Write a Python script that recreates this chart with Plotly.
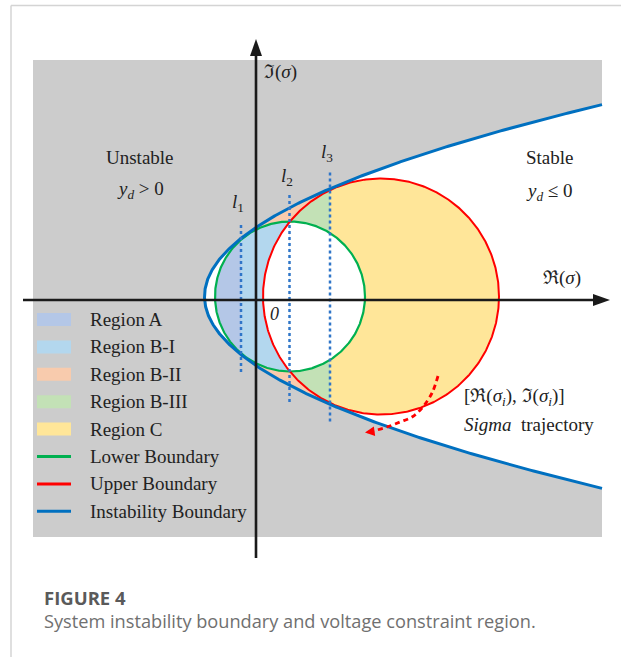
import numpy as np
import plotly.graph_objects as go

# ---- sigma-plane geometry (one unit = 50 px on the page) ----
# circles: [centre Re, centre Im, radius]
lower_circle = [0.68, 0.07, 1.50]      # lower voltage boundary (green)
upper_circle = [2.50, 0.07, 2.36]      # upper voltage boundary (red)
# instability boundary Re = vertex + curvature * (Im - axis)^2
instab_vertex = -1.03
instab_axis = 0.07
instab_curv = 0.54

# vertical guide lines l1, l2, l3
guide_names = ["1", "2", "3"]
guide_re = [-0.30, 0.67, 1.48]
guide_top = [1.54, 2.14, 2.57]
guide_bottom = [-1.44, -2.04, -2.43]
guide_label_re = [-0.36, 0.62, 1.42]
guide_label_im = [1.95, 2.47, 2.94]

# sigma trajectory sample points
traj_re = [3.64, 3.52, 3.32, 3.12, 2.88, 2.62, 2.34, 2.26]
traj_im = [-1.52, -1.86, -2.16, -2.34, -2.44, -2.54, -2.62, -2.635]

# extent of the shaded plane and of the drawn axes
plane_re = [-4.46, 6.92]
plane_im = [-4.74, 4.80]
re_axis = [-4.66, 7.08]
im_axis = [-5.16, 5.22]

# legend entries
legend_labels = ["Region A", "Region B-I", "Region B-II", "Region B-III", "Region C",
                 "Lower Boundary", "Upper Boundary", "Instability Boundary"]
legend_kinds = ["fill", "fill", "fill", "fill", "fill", "line", "line", "line"]

# colours
C_GRAY = "#cccccc"
C_A = "#b4c7e7"
C_BI = "#b3d7ee"
C_BII = "#f8cbad"
C_BIII = "#c3e1b6"
C_C = "#ffe699"
C_LOW = "#00b050"
C_UP = "#ff0000"
C_INST = "#0070c0"
C_GUIDE = "#2f75c8"
C_AXIS = "#1a1a1a"
legend_colors = [C_A, C_BI, C_BII, C_BIII, C_C, C_LOW, C_UP, C_INST]

SERIF = "Liberation Serif, Times New Roman, serif"
W, H = 621, 657


def circle_part(circ, xmin, xmax, n=300):
    """Closed outline of the part of a disc with xmin <= Re <= xmax."""
    cx, cy, r = circ
    a = max(xmin, cx - r)
    b = min(xmax, cx + r)
    ta = np.arccos(np.clip((a - cx) / r, -1, 1))
    tb = np.arccos(np.clip((b - cx) / r, -1, 1))
    t_up = np.linspace(ta, tb, n)
    t_dn = np.linspace(tb, ta, n)
    xs = np.concatenate([cx + r * np.cos(t_up), cx + r * np.cos(t_dn)])
    ys = np.concatenate([cy + r * np.sin(t_up), cy - r * np.sin(t_dn)])
    return np.append(xs, xs[0]), np.append(ys, ys[0])


def circle_outline(circ, n=600):
    cx, cy, r = circ
    t = np.linspace(0, 2 * np.pi, n)
    return cx + r * np.cos(t), cy + r * np.sin(t)


def parabola_part(xmin, xmax, n=400):
    """Closed outline of the stable interior of the instability boundary."""
    sa = np.sqrt(max(xmin - instab_vertex, 0) / instab_curv)
    sb = np.sqrt((xmax - instab_vertex) / instab_curv)
    s_up = np.linspace(sa, sb, n)
    s_dn = np.linspace(sb, sa, n)
    xs = np.concatenate([instab_vertex + instab_curv * s_up ** 2,
                         instab_vertex + instab_curv * s_dn ** 2])
    ys = np.concatenate([instab_axis + s_up, instab_axis - s_dn])
    return np.append(xs, xs[0]), np.append(ys, ys[0])


fig = go.Figure()


def add_fill(xs, ys, color):
    fig.add_trace(go.Scatter(x=xs, y=ys, mode="lines", fill="toself",
                             fillcolor=color, line=dict(width=0),
                             hoverinfo="skip"))


l1, l2, l3 = guide_re

# stable interior (white) inside the gray unstable plane
add_fill(*parabola_part(-10, plane_re[1]), "white")
# Region B-II: between the boundaries for l1 <= Re <= l3
add_fill(*parabola_part(l1, l3), C_BII)
# Region B-III: inside upper circle, l2 <= Re <= l3
add_fill(*circle_part(upper_circle, l2, l3), C_BIII)
# Region C: inside upper circle, Re >= l3
add_fill(*circle_part(upper_circle, l3, 99), C_C)
# Region A: inside lower circle, Re <= l1
add_fill(*circle_part(lower_circle, -99, l1), C_A)
# Region B-I: inside lower circle, Re >= l1
add_fill(*circle_part(lower_circle, l1, 99), C_BI)
# lens shared by both circles stays white
add_fill(*circle_part(lower_circle, l2, 99), "white")
add_fill(*circle_part(upper_circle, -99, l2), "white")

# boundary curves
gx, gy = circle_outline(lower_circle)
fig.add_trace(go.Scatter(x=gx, y=gy, mode="lines", line=dict(color=C_LOW, width=2.2),
                         hoverinfo="skip"))
rx, ry = circle_outline(upper_circle)
fig.add_trace(go.Scatter(x=rx, y=ry, mode="lines", line=dict(color=C_UP, width=2),
                         hoverinfo="skip"))
s_top = np.sqrt((plane_re[1] - instab_vertex) / instab_curv)
s = np.linspace(-s_top, s_top, 600)
fig.add_trace(go.Scatter(x=instab_vertex + instab_curv * s ** 2, y=instab_axis + s,
                         mode="lines", line=dict(color=C_INST, width=3),
                         hoverinfo="skip"))

# guide lines l1, l2, l3
for name, gr, gt, gb, lx, ly in zip(guide_names, guide_re, guide_top, guide_bottom,
                                    guide_label_re, guide_label_im):
    fig.add_trace(go.Scatter(x=[gr, gr], y=[gb, gt], mode="lines",
                             line=dict(color=C_GUIDE, width=2.5, dash="3px,3px"),
                             hoverinfo="skip"))
    fig.add_annotation(x=lx, y=ly, text=f"<i>l</i><sub>{name}</sub>", showarrow=False,
                       font=dict(family=SERIF, size=19, color="#222"))

# axes
fig.add_trace(go.Scatter(x=[re_axis[0], re_axis[1] - 0.2], y=[0, 0], mode="lines",
                         line=dict(color=C_AXIS, width=2.6), hoverinfo="skip"))
fig.add_trace(go.Scatter(x=[0, 0], y=[im_axis[0], im_axis[1] - 0.2], mode="lines",
                         line=dict(color=C_AXIS, width=2.6), hoverinfo="skip"))
head_len, head_half = 0.34, 0.12
tip = re_axis[1]
add_fill([tip, tip - head_len, tip - head_len, tip], [0, head_half, -head_half, 0], C_AXIS)
tip = im_axis[1]
add_fill([0, head_half, -head_half, 0], [tip, tip - head_len, tip - head_len, tip], C_AXIS)

# sigma trajectory
fig.add_trace(go.Scatter(x=traj_re, y=traj_im, mode="lines", line_shape="spline",
                         line=dict(color=C_UP, width=2.8, dash="5px,4px"),
                         hoverinfo="skip"))
fig.add_annotation(x=2.18, y=-2.65, ax=2.34, ay=-2.628, axref="x", ayref="y",
                   xref="x", yref="y", text="", showarrow=True, arrowhead=2,
                   arrowsize=0.8, arrowwidth=2.4, arrowcolor=C_UP, standoff=0)


def label(x, y, text, anchor="center", size=19):
    fig.add_annotation(x=x, y=y, text=text, showarrow=False, xanchor=anchor,
                       yanchor="middle", font=dict(family=SERIF, size=size, color="#222"))


label(0.12, 4.56, "\u2111(<i>\u03c3</i>)", anchor="left")
label(6.12, 0.44, "\u211c(<i>\u03c3</i>)")
label(-2.33, 2.86, "Unstable")
label(-2.32, 2.20, "<i>y</i><sub><i>d</i></sub> > 0")
label(5.87, 2.86, "Stable")
label(5.87, 2.16, "<i>y</i><sub><i>d</i></sub> \u2264 0")
label(0.36, -0.28, "<i>0</i>", size=18)
label(4.12, -1.94, "[\u211c(<i>\u03c3</i><sub><i>i</i></sub>), \u2111(<i>\u03c3</i><sub><i>i</i></sub>)]",
      anchor="left")
label(4.12, -2.48, "<i>Sigma</i>  trajectory", anchor="left")

# legend drawn inside the shaded plane
leg_x0, leg_x1, leg_text = -4.38, -3.70, -3.36
leg_y0, leg_step = -0.39, -0.548
for i, (lab, kind, col) in enumerate(zip(legend_labels, legend_kinds, legend_colors)):
    yy = leg_y0 + i * leg_step
    if kind == "fill":
        fig.add_shape(type="rect", x0=leg_x0, x1=leg_x1, y0=yy - 0.13, y1=yy + 0.13,
                      fillcolor=col, line=dict(width=0))
    else:
        fig.add_shape(type="line", x0=leg_x0, x1=leg_x1, y0=yy, y1=yy,
                      line=dict(color=col, width=3))
    label(leg_text, yy, lab, anchor="left")

# gray unstable plane and page frame
fig.add_shape(type="rect", x0=plane_re[0], x1=plane_re[1], y0=plane_im[0], y1=plane_im[1],
              fillcolor=C_GRAY, line=dict(width=0), layer="below")
fig.add_shape(type="line", xref="paper", yref="paper", x0=11 / W, x1=1, y0=1 - 5.5 / H,
              y1=1 - 5.5 / H, line=dict(color="#d4d4d4", width=1.5))
fig.add_shape(type="line", xref="paper", yref="paper", x0=11 / W, x1=11 / W, y0=0,
              y1=1 - 5.5 / H, line=dict(color="#d4d4d4", width=1.5))

# caption
fig.add_annotation(xref="paper", yref="paper", x=42 / W, y=1 - 597 / H, xanchor="left",
                   yanchor="middle", showarrow=False, text="<b>FIGURE 4</b>",
                   font=dict(family="Open Sans", size=18.5, color="#5a5a5a"))
fig.add_annotation(xref="paper", yref="paper", x=42 / W, y=1 - 621 / H, xanchor="left",
                   yanchor="middle", showarrow=False,
                   text="System instability boundary and voltage constraint region.",
                   font=dict(family="Open Sans", size=18.2, color="#707070"))

fig.update_layout(
    width=W, height=H, margin=dict(l=0, r=0, t=0, b=0),
    paper_bgcolor="white", plot_bgcolor="white", showlegend=False,
    xaxis=dict(range=[-5.12, 7.30], visible=False, fixedrange=True),
    yaxis=dict(range=[-7.14, 6.00], visible=False, fixedrange=True),
)

fig.write_html("out.html")
